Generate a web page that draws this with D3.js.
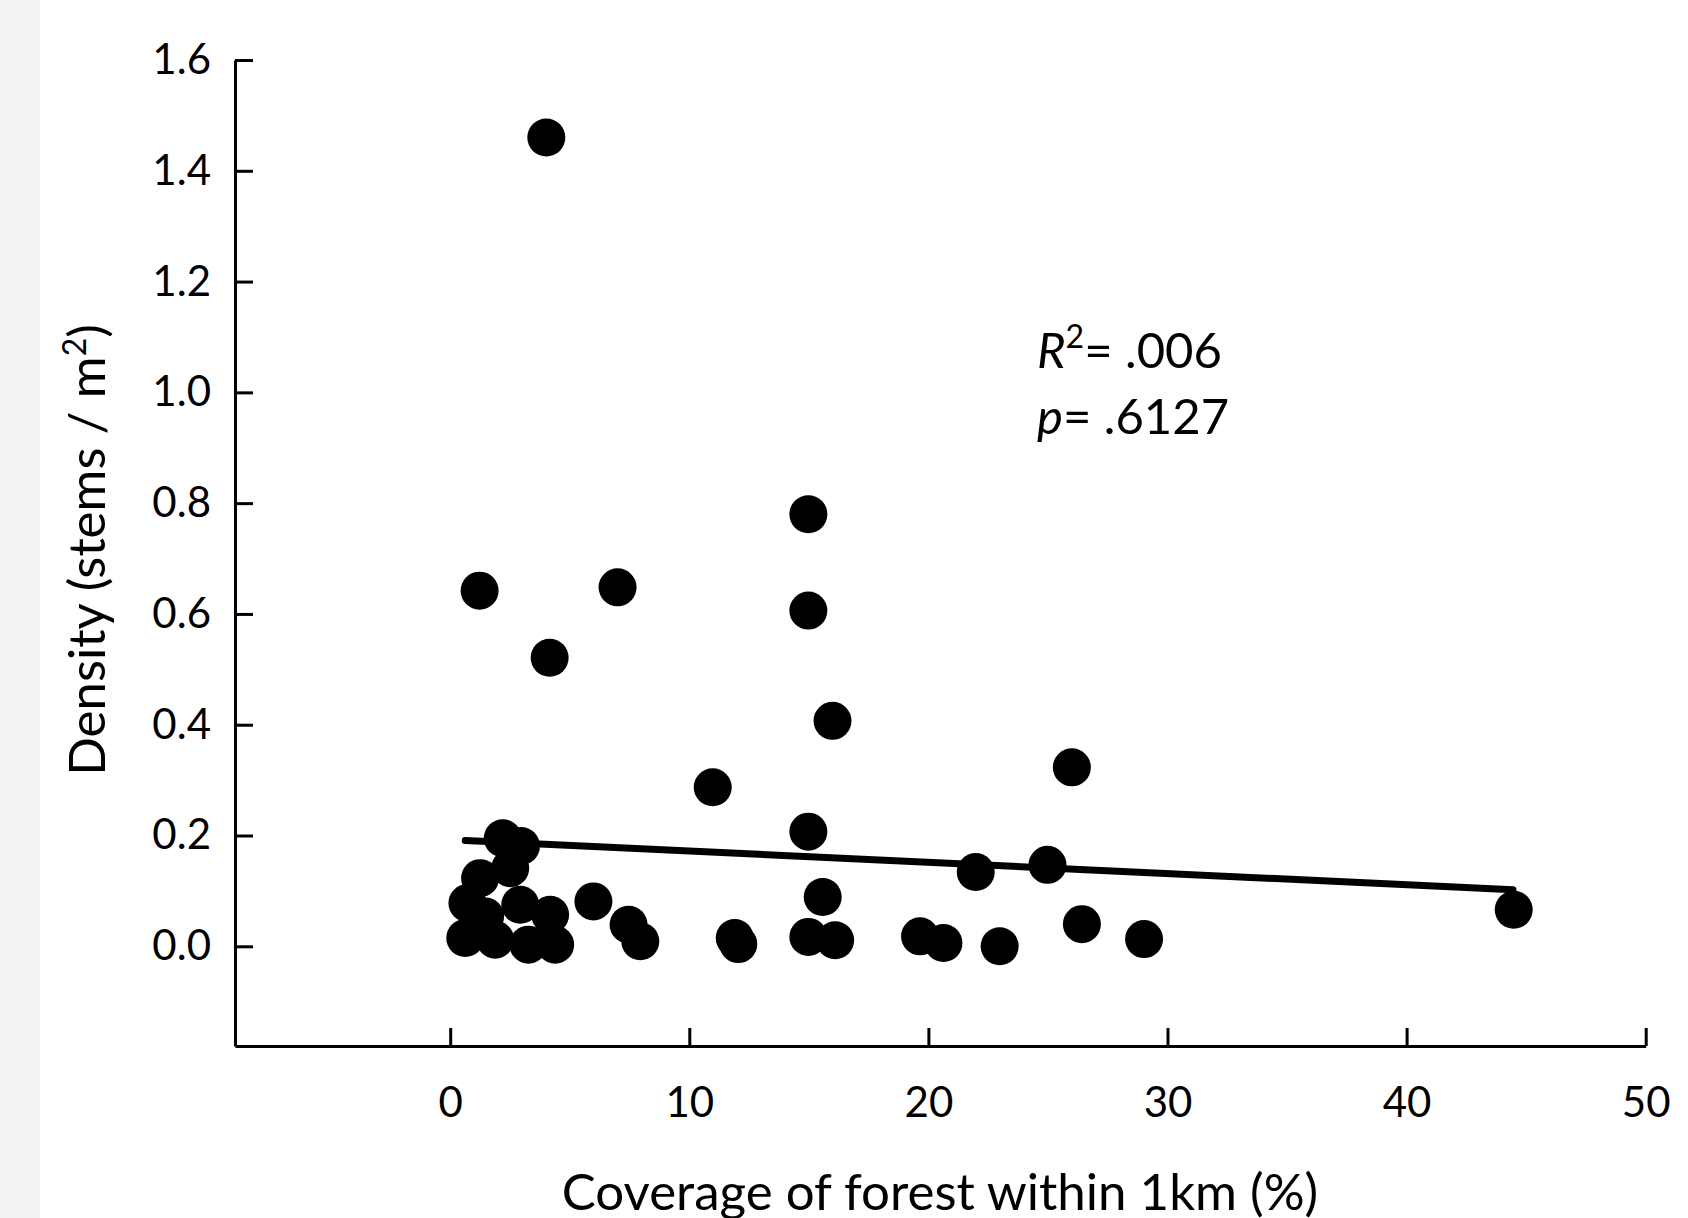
<!DOCTYPE html>
<html>
<head>
<meta charset="utf-8">
<script src="https://cdn.jsdelivr.net/npm/d3@7"></script>
<style>
  body { margin: 0; background: #fff; }
  #chart { display: block; }
</style>
</head>
<body>
<div id="chart"></div>
<script>
// forest coverage (%) vs stem density, one entry per site
const coverage = [4.02, 14.98, 1.23, 7.0, 14.98, 4.16, 15.99, 10.98, 26.0, 14.98,
                  2.2, 2.96, 2.51, 1.25, 0.72, 2.93, 4.18, 1.46, 0.63, 1.88,
                  3.27, 4.39, 5.99, 7.46, 7.95, 21.98, 24.98, 15.58, 44.48, 26.42,
                  29.02, 11.9, 12.05, 14.98, 16.1, 19.65, 20.63, 22.98];
const density = [1.46, 0.780, 0.642, 0.648, 0.606, 0.521, 0.407, 0.287, 0.323, 0.207,
                 0.195, 0.181, 0.141, 0.123, 0.078, 0.075, 0.057, 0.054, 0.015, 0.012,
                 0.003, 0.003, 0.081, 0.039, 0.009, 0.134, 0.147, 0.089, 0.066, 0.040,
                 0.013, 0.015, 0.004, 0.017, 0.011, 0.018, 0.006, 0.0];

// fitted line end points as drawn
const trendX = [0.63, 44.45];
const trendY = [0.191, 0.102];

const xTicks = [0, 10, 20, 30, 40, 50];
const yTicks = [0, 0.2, 0.4, 0.6, 0.8, 1.0, 1.2, 1.4, 1.6];

const width = 1688, height = 1218;

const svg = d3.select('#chart').append('svg')
    .attr('width', width)
    .attr('height', height)
    .style('font-family', 'Lato, "Open Sans", sans-serif');

svg.append('rect')
    .attr('width', width).attr('height', height)
    .attr('fill', '#fff');

// pale strip down the left edge
svg.append('rect')
    .attr('width', 40).attr('height', height)
    .attr('fill', '#f3f3f3');

const xScale = d3.scaleLinear()
                .domain([-9, 50])
                .range([235, 1645.7]);

const yScale = d3.scaleLinear()
                .domain([-0.18, 1.6])
                .range([1046, 60]);

// axes, ticks point inward
const xAxis = svg.append('g')
    .attr('transform', `translate(0, ${yScale(-0.18)})`)
    .call(d3.axisBottom(xScale)
            .tickValues(xTicks)
            .tickSizeInner(-18)
            .tickSizeOuter(0)
            .tickPadding(41)
            .tickFormat(d3.format('d')));

const yAxis = svg.append('g')
    .attr('transform', `translate(${xScale(-9)}, 0)`)
    .call(d3.axisLeft(yScale)
            .tickValues(yTicks)
            .tickSizeInner(-18)
            .tickSizeOuter(0)
            .tickPadding(24)
            .tickFormat(d3.format('.1f')));

[xAxis, yAxis].forEach(ax => {
  ax.select('.domain').attr('stroke', '#000').attr('stroke-width', 3);
  ax.selectAll('.tick line').attr('stroke', '#000').attr('stroke-width', 3);
  ax.selectAll('.tick text')
      .attr('fill', '#000')
      .style('font-size', '42px')
      .style('font-family', 'Lato, "Open Sans", sans-serif');
});

// regression line
svg.append('path')
    .data([d3.zip(trendX, trendY)])
    .attr('fill', 'none')
    .attr('stroke', '#000')
    .attr('stroke-width', 7)
    .attr('stroke-linecap', 'round')
    .attr('d', d3.line()
                .x(d => xScale(d[0]))
                .y(d => yScale(d[1])));

// sites
svg.append('g')
  .selectAll('circle')
  .data(d3.zip(coverage, density))
  .join('circle')
    .attr('cx', d => xScale(d[0]))
    .attr('cy', d => yScale(d[1]))
    .attr('r', 19)
    .attr('fill', '#000');

// stats
const stats = svg.append('g')
    .style('font-size', '49px')
    .attr('fill', '#000');

const r2 = stats.append('text').attr('x', 1037).attr('y', 368);
r2.append('tspan').style('font-style', 'italic').text('R');
r2.append('tspan').attr('dy', -20).style('font-size', '32px').text('2');
r2.append('tspan').attr('dy', 20).text('= .006');

const pv = stats.append('text').attr('x', 1037).attr('y', 434);
pv.append('tspan').style('font-style', 'italic').text('p');
pv.append('tspan').text('= .6127');

// axis titles
svg.append('text')
    .attr('x', 940)
    .attr('y', 1210)
    .attr('text-anchor', 'middle')
    .style('font-size', '51px')
    .text('Coverage of forest within 1km (%)');

const yTitle = svg.append('text')
    .attr('transform', 'translate(105, 550) rotate(-90)')
    .attr('text-anchor', 'middle')
    .style('font-size', '51px');
yTitle.append('tspan').text('Density (stems / m');
yTitle.append('tspan').attr('dy', -19).style('font-size', '32px').text('2');
yTitle.append('tspan').attr('dy', 19).text(')');
</script>
</body>
</html>
